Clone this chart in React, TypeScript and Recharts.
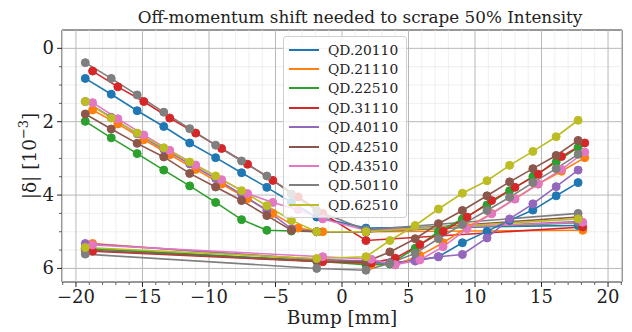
import React from "react";
import { LineChart, Line, XAxis, YAxis, ReferenceLine, ReferenceArea } from "recharts";

// magnet names and matplotlib tab10 colours
const magnets = ["QD.20110", "QD.21110", "QD.22510", "QD.31110", "QD.40110", "QD.42510", "QD.43510", "QD.50110", "QD.62510"];
const colors = ["#1f77b4", "#ff7f0e", "#2ca02c", "#d62728", "#9467bd", "#8c564b", "#e377c2", "#7f7f7f", "#bcbd22"];

// bump values [mm]: side A (negative-bump slope), side B (positive-bump slope)
const bumpA = [-19.3, -17.35, -15.4, -13.4, -11.45, -9.5, -7.55, -5.65, -3.8, -1.9, 1.8, 17.75];
const bumpAShifted = [-18.75, -16.85, -14.9, -12.95, -11.0, -9.05, -7.1, -5.2, -3.3, -1.45, 1.8, 18.1];
const bumpB = [-19.3, -1.9, 1.8, 3.6, 5.5, 7.25, 9.05, 10.9, 12.6, 14.35, 16.1, 17.75];
const bumpBShifted = [-18.75, -1.45, 2.2, 4.0, 5.85, 7.6, 9.4, 11.25, 13.0, 14.75, 16.5, 18.25];

// |delta| [1e-3], side A
const dA_20110 = [0.82, 1.25, 1.7, 2.13, 2.58, 2.98, 3.39, 3.79, 4.2, 4.6, 4.9, 4.83];
const dA_21110 = [1.68, 2.06, 2.49, 2.9, 3.3, 3.7, 4.1, 4.5, 4.9, 5.0, 5.0, 4.96];
const dA_22510 = [1.99, 2.44, 2.87, 3.32, 3.75, 4.2, 4.67, 4.96, 4.98, 5.0, 5.0, 4.75];
const dA_31110 = [0.62, 1.05, 1.45, 1.9, 2.31, 2.73, 3.16, 3.6, 4.05, 4.5, 5.24, 4.87];
const dA_40110 = [1.45, 1.88, 2.33, 2.75, 3.15, 3.55, 3.98, 4.42, 4.92, 5.0, 5.0, 4.72];
const dA_42510 = [1.79, 2.2, 2.59, 2.96, 3.41, 3.78, 4.15, 4.56, 4.96, 5.0, 5.0, 4.6];
const dA_43510 = [1.48, 1.92, 2.36, 2.78, 3.18, 3.58, 3.96, 4.2, 4.4, 4.65, 4.96, 4.74];
const dA_50110 = [0.39, 0.82, 1.27, 1.74, 2.19, 2.64, 3.07, 3.48, 3.97, 4.42, 4.95, 4.5];
const dA_62510 = [1.45, 1.9, 2.31, 2.71, 3.1, 3.48, 3.88, 4.29, 4.69, 5.0, 5.0, 4.65];

// |delta| [1e-3], side B
const dB_20110 = [5.45, 5.8, 5.85, 5.85, 5.78, 5.68, 5.3, 4.99, 4.69, 4.41, 4.02, 3.66];
const dB_21110 = [5.32, 5.78, 5.9, 5.9, 5.65, 5.3, 4.88, 4.5, 4.1, 3.7, 3.35, 2.98];
const dB_22510 = [5.45, 5.8, 5.9, 5.88, 5.45, 5.0, 4.65, 4.27, 3.88, 3.5, 3.1, 2.7];
const dB_31110 = [5.53, 5.82, 5.85, 5.72, 5.35, 4.99, 4.6, 4.15, 3.79, 3.43, 2.95, 2.58];
const dB_40110 = [5.32, 5.75, 5.8, 5.85, 5.8, 5.68, 5.62, 5.17, 4.65, 4.24, 3.77, 3.32];
const dB_42510 = [5.5, 5.8, 5.82, 5.55, 5.19, 4.78, 4.42, 4.02, 3.64, 3.28, 2.92, 2.51];
const dB_43510 = [5.36, 5.68, 5.75, 5.9, 5.77, 5.41, 4.92, 4.51, 4.11, 3.7, 3.3, 2.83];
const dB_50110 = [5.61, 6.0, 6.05, 5.86, 5.59, 5.19, 4.8, 4.42, 4.06, 3.66, 3.28, 2.89];
const dB_62510 = [5.43, 5.73, 5.68, 5.24, 4.83, 4.38, 3.95, 3.61, 3.19, 2.81, 2.41, 1.96];

const xMajorTicks = [-20, -15, -10, -5, 0, 5, 10, 15, 20];
const yMajorTicks = [0, 2, 4, 6];

const series = [
  { xA: bumpA, yA: dA_20110, xB: bumpB, yB: dB_20110 },
  { xA: bumpAShifted, yA: dA_21110, xB: bumpBShifted, yB: dB_21110 },
  { xA: bumpA, yA: dA_22510, xB: bumpB, yB: dB_22510 },
  { xA: bumpAShifted, yA: dA_31110, xB: bumpBShifted, yB: dB_31110 },
  { xA: bumpA, yA: dA_40110, xB: bumpB, yB: dB_40110 },
  { xA: bumpA, yA: dA_42510, xB: bumpB, yB: dB_42510 },
  { xA: bumpAShifted, yA: dA_43510, xB: bumpBShifted, yB: dB_43510 },
  { xA: bumpA, yA: dA_50110, xB: bumpB, yB: dB_50110 },
  { xA: bumpA, yA: dA_62510, xB: bumpB, yB: dB_62510 },
].map((s, i) => ({
  name: magnets[i],
  color: colors[i],
  a: s.xA.map((x, j) => ({ x, y: s.yA[j] })),
  b: s.xB.map((x, j) => ({ x, y: s.yB[j] })),
}));

const X_DOMAIN = [-21.05, 21.05];
const Y_DOMAIN = [-0.5, 6.37];
const xMinor = Array.from({ length: 43 }, (_, i) => i - 21);
const yMinor = Array.from({ length: 13 }, (_, i) => i * 0.5);

const FONT = "'DejaVu Serif', serif";
const INK = "#222";
const fmt = (v: number) => (v < 0 ? "\u2212" + Math.abs(v) : String(v));

const XTick = ({ x, y, payload }: any) => {
  const v = payload.value;
  const major = xMajorTicks.includes(v);
  return (
    <g>
      <line x1={x} x2={x} y1={y} y2={y + (major ? 5 : 3)} stroke={INK} strokeWidth={major ? 1 : 0.7} />
      {major && (
        <text x={x} y={y + 21} textAnchor="middle" fontSize={18} fill={INK} fontFamily={FONT}>
          {fmt(v)}
        </text>
      )}
    </g>
  );
};

const YTick = ({ x, y, payload }: any) => {
  const v = payload.value;
  const major = yMajorTicks.includes(v);
  return (
    <g>
      <line x1={x} x2={x - (major ? 5 : 3)} y1={y} y2={y} stroke={INK} strokeWidth={major ? 1 : 0.7} />
      {major && (
        <text x={x - 8} y={y + 6} textAnchor="end" fontSize={18} fill={INK} fontFamily={FONT}>
          {fmt(v)}
        </text>
      )}
    </g>
  );
};

export default function App() {
  return (
    <div style={{ position: "absolute", left: 0, top: 0, width: 632, height: 332, background: "#fff", fontFamily: FONT }}>
      <div style={{ position: "absolute", left: 60, width: 600, top: 7, textAlign: "center", fontSize: 16.8, color: INK, whiteSpace: "nowrap" }}>
        Off-momentum shift needed to scrape 50% Intensity
      </div>
      <LineChart width={632} height={332} margin={{ top: 30, right: 10, left: 0, bottom: 0 }}>
        <XAxis
          type="number"
          dataKey="x"
          domain={X_DOMAIN}
          allowDataOverflow
          ticks={xMinor}
          interval={0}
          tick={<XTick />}
          tickSize={0}
          tickMargin={0}
          tickLine={false}
          axisLine={false}
          height={50}
        />
        <YAxis
          type="number"
          dataKey="y"
          domain={Y_DOMAIN}
          reversed
          allowDataOverflow
          ticks={yMinor}
          interval={0}
          tick={<YTick />}
          tickSize={0}
          tickMargin={0}
          tickLine={false}
          axisLine={false}
          width={62}
        />
        {xMinor.filter((v) => !xMajorTicks.includes(v)).map((v) => (
          <ReferenceLine key={"xm" + v} x={v} stroke="#ebebeb" strokeWidth={0.8} />
        ))}
        {yMinor.filter((v) => !yMajorTicks.includes(v)).map((v) => (
          <ReferenceLine key={"ym" + v} y={v} stroke="#ebebeb" strokeWidth={0.8} />
        ))}
        {xMajorTicks.map((v) => (
          <ReferenceLine key={"xM" + v} x={v} stroke="#b8b8b8" strokeWidth={1} />
        ))}
        {yMajorTicks.map((v) => (
          <ReferenceLine key={"yM" + v} y={v} stroke="#b8b8b8" strokeWidth={1} />
        ))}
        {series.map((s) => (
          <Line
            key={s.name + "a"}
            data={s.a}
            dataKey="y"
            name={s.name}
            stroke={s.color}
            strokeWidth={1.6}
            dot={{ r: 4, fill: s.color, stroke: s.color, strokeWidth: 1 }}
            activeDot={false}
            isAnimationActive={false}
          />
        ))}
        {series.map((s) => (
          <Line
            key={s.name + "b"}
            data={s.b}
            dataKey="y"
            name={s.name + " B"}
            legendType="none"
            stroke={s.color}
            strokeWidth={1.6}
            dot={{ r: 4, fill: s.color, stroke: s.color, strokeWidth: 1 }}
            activeDot={false}
            isAnimationActive={false}
          />
        ))}
        <ReferenceArea x1={X_DOMAIN[0]} x2={X_DOMAIN[1]} y1={Y_DOMAIN[0]} y2={Y_DOMAIN[1]} fill="none" stroke="#333" strokeWidth={1} />
      </LineChart>
      <div
        style={{
          position: "absolute",
          left: 283,
          top: 36,
          padding: "3px 8px 2px 5px",
          background: "rgba(255,255,255,0.8)",
          border: "1px solid #d0d0d0",
          borderRadius: 3,
        }}
      >
        {series.map((s) => (
          <div key={s.name} style={{ display: "flex", alignItems: "center", height: 19.4 }}>
            <svg width={30} height={10} style={{ marginRight: 9 }}>
              <line x1={0} x2={30} y1={5} y2={5} stroke={s.color} strokeWidth={2} />
            </svg>
            <span style={{ fontSize: 13.8, color: INK }}>{s.name}</span>
          </div>
        ))}
      </div>
      <div style={{ position: "absolute", left: 0, width: 684, top: 307, textAlign: "center", fontSize: 18.5, color: INK }}>
        Bump [mm]
      </div>
      <div
        style={{
          position: "absolute",
          left: 28,
          top: 156,
          transform: "translate(-50%, -50%) rotate(-90deg)",
          fontSize: 18.5,
          color: INK,
          whiteSpace: "nowrap",
        }}
      >
        |δ| [10<sup style={{ fontSize: 13 }}>−3</sup>]
      </div>
    </div>
  );
}
